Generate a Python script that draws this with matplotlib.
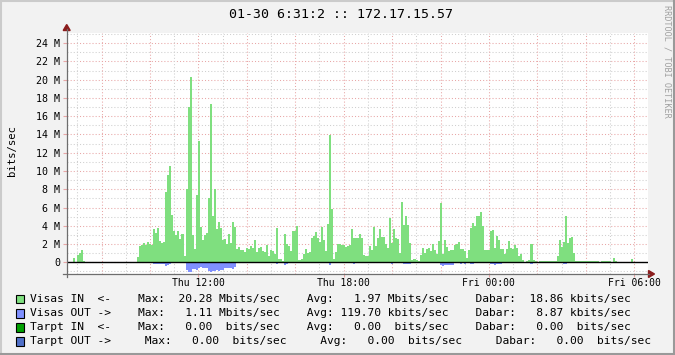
import matplotlib.pyplot as plt
from matplotlib.patches import Polygon, Rectangle
from matplotlib.lines import Line2D
import numpy as np

W, H = 675, 355
MONO = "DejaVu Sans Mono"

# time axis in hours since Thu 00:00, one bar per 5 minutes
t_start = 6.55
step_h = 5 / 60.0

# Visas IN, Mbit/s (one row = one hour)
visas_in = [
    0, 0, 0, 0.47, 0, 0.8, 1.0, 1.35, 0.15, 0, 0, 0,
    0, 0, 0, 0, 0, 0, 0, 0, 0, 0, 0, 0,
    0, 0, 0, 0, 0, 0, 0, 0, 0, 0, 0, 0.6,
    1.8, 1.9, 2.1, 1.9, 2.2, 2.0, 1.9, 3.65, 3.2, 3.75, 2.35, 2.1,
    2.2, 7.7, 9.55, 10.5, 5.2, 3.4, 3.0, 3.4, 2.55, 3.1, 0.7, 8.0,
    17.0, 20.28, 3.0, 1.45, 7.35, 13.3, 3.9, 2.45, 3.0, 3.2, 7.0, 17.3,
    5.1, 8.0, 3.65, 4.4, 3.75, 2.45, 2.55, 2.0, 3.1, 2.1, 4.4, 3.85,
    1.45, 1.65, 1.35, 1.35, 1.1, 1.55, 1.45, 1.8, 1.55, 2.45, 1.1, 1.55,
    1.65, 1.25, 1.1, 1.9, 0.7, 1.35, 1.25, 0.9, 3.75, 0.35, 0.35, 0.15,
    3.1, 2.0, 1.8, 1.25, 3.4, 3.4, 4.0, 0.25, 0.35, 0.9, 1.45, 1.0,
    1.1, 2.65, 2.9, 3.3, 2.65, 2.2, 3.85, 2.45, 1.25, 4.2, 13.95, 5.85,
    0.35, 1.1, 2.0, 2.0, 1.9, 1.9, 1.68, 1.8, 1.9, 3.65, 2.65, 2.65,
    2.65, 3.1, 2.65, 0.8, 0.7, 0.7, 1.8, 1.35, 3.85, 1.8, 2.65, 3.65,
    2.75, 2.75, 2.0, 1.55, 4.85, 2.1, 3.65, 2.65, 2.55, 1.0, 6.6, 4.1,
    5.1, 4.1, 2.1, 0.25, 0.35, 0.25, 0.15, 0.8, 1.55, 1.0, 1.45, 1.55,
    1.25, 2.0, 1.35, 0.9, 2.35, 6.5, 0.9, 2.45, 1.68, 1.25, 1.35, 1.35,
    1.9, 2.0, 2.2, 1.45, 1.45, 1.25, 0.5, 1.35, 3.75, 4.3, 4.0, 5.1,
    5.1, 5.5, 4.0, 1.35, 1.35, 1.35, 3.4, 3.5, 1.55, 2.9, 2.45, 1.45,
    1.45, 0.9, 1.45, 2.35, 1.55, 1.45, 1.9, 1.55, 0.7, 0.9, 0.25, 0,
    0.15, 0.25, 2.0, 0.25, 0.15, 0, 0.1, 0.1, 0.1, 0.1, 0.1, 0.1,
    0.1, 0.1, 0.1, 0.7, 2.45, 1.68, 2.2, 5.1, 2.1, 2.65, 2.75, 1.0,
    0.1, 0.1, 0.1, 0.1, 0.1, 0.1, 0.1, 0.1, 0.1, 0.1, 0.1, 0.1,
    0, 0.1, 0.1, 0.1, 0.1, 0.1, 0, 0.5, 0.1, 0, 0, 0,
    0, 0, 0, 0, 0.35, 0, 0, 0, 0, 0, 0, 0,
]

# Visas OUT, Mbit/s (drawn below zero)
visas_out = [
    0, 0, 0, 0, 0, 0, 0, 0, 0, 0, 0, 0,
    0, 0, 0, 0, 0, 0, 0, 0, 0, 0, 0, 0,
    0, 0, 0, 0, 0, 0, 0, 0, 0, 0, 0, 0,
    0, 0, 0, 0, 0, 0, 0, 0.15, 0.15, 0.15, 0.15, 0.15,
    0.2, 0.4, 0.25, 0.15, 0, 0, 0, 0, 0, 0, 0, 0.85,
    1.11, 1.11, 0.75, 0.75, 0.85, 0.6, 0.5, 0.6, 0.6, 0.6, 0.95, 1.1,
    0.95, 0.95, 0.85, 0.95, 0.85, 0.85, 0.6, 0.6, 0.6, 0.6, 0.7, 0.5,
    0, 0, 0, 0, 0, 0, 0, 0, 0, 0, 0, 0,
    0, 0, 0, 0, 0, 0, 0, 0, 0.15, 0, 0, 0,
    0.25, 0.15, 0, 0, 0, 0, 0, 0, 0, 0, 0, 0,
    0, 0, 0, 0, 0, 0, 0, 0, 0, 0, 0.25, 0,
    0, 0, 0, 0, 0, 0, 0, 0, 0, 0, 0.15, 0,
    0, 0, 0, 0, 0, 0, 0, 0, 0, 0, 0, 0,
    0, 0, 0, 0, 0, 0.15, 0, 0, 0, 0, 0, 0.2,
    0.2, 0.15, 0.15, 0, 0, 0, 0, 0, 0, 0, 0, 0,
    0, 0, 0, 0, 0, 0.3, 0.45, 0.3, 0.3, 0.3, 0.3, 0.3,
    0, 0, 0, 0.15, 0, 0.15, 0, 0, 0.15, 0.15, 0, 0,
    0, 0, 0, 0, 0, 0, 0.15, 0.15, 0.3, 0.15, 0.15, 0.15,
    0, 0, 0, 0, 0, 0, 0, 0, 0, 0, 0, 0,
    0, 0, 0.15, 0, 0, 0, 0, 0, 0, 0, 0, 0,
    0, 0, 0, 0, 0, 0, 0.15, 0.15, 0, 0, 0, 0,
    0, 0, 0, 0, 0, 0, 0, 0, 0, 0, 0, 0,
    0, 0, 0, 0, 0, 0, 0, 0, 0, 0, 0, 0,
    0, 0, 0, 0, 0, 0, 0, 0, 0, 0, 0, 0,
]

hour_ticks = [12, 18, 24, 30]
hour_labels = ["Thu 12:00", "Thu 18:00", "Fri 00:00", "Fri 06:00"]
y_ticks = list(range(0, 25, 2))
y_labels = ["0"] + ["%d M" % v for v in y_ticks[1:]]

legend_names = ["Visas IN  <-", "Visas OUT ->", "Tarpt IN  <-", "Tarpt OUT ->"]
legend_colors = ["#80E080", "#8090FF", "#00A000", "#5070C8"]
max_vals = [20.28, 1.11, 0.00, 0.00]
max_units = ["M", "M", " ", " "]
avg_vals = [1.97, 119.70, 0.00, 0.00]
avg_units = ["M", "k", " ", " "]
cur_vals = [18.86, 8.87, 0.00, 0.00]
cur_units = ["k", "k", " ", " "]
legend_gaps = [4, 4, 4, 5]


def fx(x):
    return x / W


def fy(y):
    return 1 - y / H


def fig_line(x0, y0, x1, y1, **kw):
    fig.add_artist(Line2D([fx(x0), fx(x1)], [fy(y0), fy(y1)],
                          transform=fig.transFigure, **kw))


fig = plt.figure(figsize=(W / 100, H / 100), dpi=100, facecolor="#F2F2F2")

# plot area in pixels: x 66.5..647.5, y 32.7..274, zero at y 262.3
ax = fig.add_axes([fx(66.5), fy(274), fx(581), 241.3 / H])
ax.set_facecolor("white")
ax.set_xlim(t_start, t_start + 24)
ax.set_ylim(-(274 - 262.3) / 9.13, (262.3 - 32.7) / 9.13)

# grid
dot = (0, (1, 2))
for v in range(-1, 26):
    c = "#E8A6A6" if v % 2 == 0 else "#CFCFCF"
    ax.axhline(v, color=c, lw=0.75, ls=dot, zorder=0.5)
for h in range(7, 31):
    c = "#E8A6A6" if h % 2 == 0 else "#CFCFCF"
    ax.axvline(h, color=c, lw=0.75, ls=dot, zorder=0.5)

t = t_start + np.arange(len(visas_in)) * step_h
ax.bar(t, visas_in, width=step_h, align="edge", color="#7FDF7F",
       linewidth=0, zorder=2)
ax.bar(t, -np.array(visas_out), width=step_h, align="edge", color="#8090FF",
       linewidth=0, zorder=2)
ax.axhline(0, color="black", lw=1.0, zorder=3)

for s in ax.spines.values():
    s.set_visible(False)

ax.set_yticks(y_ticks, y_labels)
ax.set_xticks(hour_ticks, hour_labels)
ax.tick_params(axis="y", length=2.6, width=0.8, color="#E8A6A6", pad=1.8,
               labelsize=7.2, labelcolor="black")
ax.tick_params(axis="x", length=2.0, width=0.8, color="#E8A6A6", pad=1.0,
               labelsize=7.0, labelcolor="black")
for lab in ax.get_xticklabels() + ax.get_yticklabels():
    lab.set_family(MONO)

# axes with arrows
fig_line(66.7, 277, 66.7, 29, color="#6E6E6E", lw=0.9)
fig_line(63, 274, 649, 274, color="#6E6E6E", lw=0.9)
arrow_c = "#8B1C1C"
fig.add_artist(Polygon([[fx(66.7), fy(24.5)], [fx(63.2), fy(30.5)], [fx(70.2), fy(30.5)]],
                       closed=True, transform=fig.transFigure, color=arrow_c))
fig.add_artist(Polygon([[fx(654.5), fy(274)], [fx(648.5), fy(270.5)], [fx(648.5), fy(277.5)]],
                       closed=True, transform=fig.transFigure, color=arrow_c))

# texts
fig.text(fx(341), fy(14), "01-30 6:31:2 :: 172.17.15.57", ha="center", va="center",
         fontsize=9.5, family=MONO)
fig.text(fx(12), fy(150), "bits/sec", rotation=90, ha="center", va="center",
         fontsize=7.6, family=MONO)
fig.text(fx(666.5), fy(61), "RRDTOOL / TOBI OETIKER", rotation=270, ha="center",
         va="center", fontsize=6.1, family=MONO, color="#A0A0A0")

# legend
rows_y = [299, 313.3, 327.5, 341.5]
for i, y in enumerate(rows_y):
    fig.add_artist(Rectangle((fx(15.5), fy(y + 4.3)), 8 / W, 8.6 / H,
                             transform=fig.transFigure, facecolor=legend_colors[i],
                             edgecolor="black", lw=0.8))
    gap = " " * legend_gaps[i]
    row = (legend_names[i] + gap
           + "Max: %6.2f %sbits/sec" % (max_vals[i], max_units[i]) + gap
           + "Avg: %6.2f %sbits/sec" % (avg_vals[i], avg_units[i]) + gap
           + "Dabar: %6.2f %sbits/sec" % (cur_vals[i], cur_units[i]))
    fig.text(fx(30.5), fy(y), row, ha="left", va="center", fontsize=8.15, family=MONO)

# frame
fig_line(0, 0.5, W, 0.5, color="#CBCBCB", lw=1.5)
fig_line(0.5, 0, 0.5, H, color="#CBCBCB", lw=1.5)
fig_line(0, H - 1, W, H - 1, color="#999999", lw=1.5)
fig_line(W - 1, 0, W - 1, H, color="#999999", lw=1.5)

fig.savefig("out.png", dpi=100, facecolor=fig.get_facecolor())
